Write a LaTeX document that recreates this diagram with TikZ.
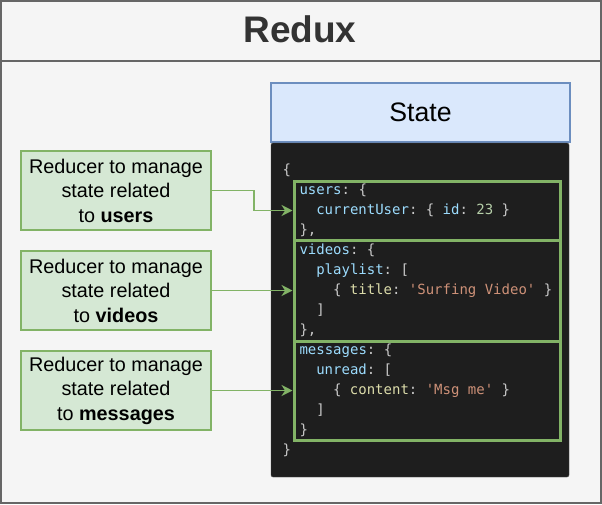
\documentclass[tikz,border=0pt]{standalone}
\usepackage{fontspec}
\setmainfont{Liberation Sans}
\setmonofont{DejaVu Sans Mono}
\usepackage{xcolor}
\usetikzlibrary{positioning, arrows.meta}

\definecolor{framegray}{HTML}{666666}
\definecolor{framefill}{HTML}{F5F5F5}
\definecolor{titletext}{HTML}{333333}
\definecolor{statefill}{HTML}{DAE8FC}
\definecolor{stateline}{HTML}{6C8EBF}
\definecolor{greenfill}{HTML}{D5E8D4}
\definecolor{greenline}{HTML}{82B366}
\definecolor{codebg}{HTML}{1E1E1E}
\definecolor{codepunct}{HTML}{C8C8C8}
\definecolor{codekey}{HTML}{9CDCFE}
\definecolor{codestr}{HTML}{CE9178}
\definecolor{codenum}{HTML}{B5CEA8}
\definecolor{codefld}{HTML}{DCDCAA}

\newcommand{\jkey}[1]{\textcolor{codekey}{#1}}
\newcommand{\jstr}[1]{\textcolor{codestr}{#1}}
\newcommand{\jnum}[1]{\textcolor{codenum}{#1}}
\newcommand{\jfld}[1]{\textcolor{codefld}{#1}}

\tikzset{
  reducer/.style={draw=greenline, fill=greenfill, line width=1.5pt, minimum width=190pt,
    minimum height=79pt, align=center, inner sep=0pt,
    font=\fontsize{19.8}{24.5}\selectfont},
  slice/.style={draw=greenline, line width=3pt, minimum width=266pt, inner sep=0pt},
  codeline/.style={anchor=base west, inner sep=0pt, text=codepunct,
    font=\fontsize{14}{20}\ttfamily},
  feed/.style={draw=greenline, line width=1.8pt, -{Stealth[length=11pt,width=11pt]}}
}

\begin{document}
\begin{tikzpicture}[x=1pt, y=-1pt]
\useasboundingbox (0,0) rectangle (602,504);

% frame and title
\draw[framegray, fill=framefill, line width=2pt] (1,1) rectangle (601,503);
\draw[framegray, line width=2pt] (1,61) -- (601,61);
\node[anchor=base, inner sep=0pt, font=\fontsize{37}{40}\selectfont\bfseries, text=titletext]
  (title) at (300,42) {Redux};

% state store
\node[draw=stateline, fill=statefill, line width=1.5pt, minimum width=299pt, minimum height=59pt,
  inner sep=0pt, font=\fontsize{26.7}{30}\selectfont] (state) at (420.5,112.5) {State};
\node[fill=codebg, draw=codebg!80!white, rounded corners=2pt, minimum width=298pt,
  minimum height=334pt, inner sep=0pt] (code) at (420,310) {};

% code lines
\node[codeline] (l0) at (282.5,174) {\{};
\node[codeline] (l1) at (299.3,194) {\jkey{users}: \{};
\node[codeline] (l2) at (316.1,214) {\jkey{currentUser}: \{ \jkey{id}: \jnum{23} \}};
\node[codeline] (l3) at (299.3,234) {\},};
\node[codeline] (l4) at (299.3,254) {\jkey{videos}: \{};
\node[codeline] (l5) at (316.1,274) {\jkey{playlist}: [};
\node[codeline] (l6) at (332.9,294) {\{ \jfld{title}: \jstr{'Surfing Video'} \}};
\node[codeline] (l7) at (316.1,314) {]};
\node[codeline] (l8) at (299.3,334) {\},};
\node[codeline] (l9) at (299.3,354) {\jkey{messages}: \{};
\node[codeline] (l10) at (316.1,374) {\jkey{unread}: [};
\node[codeline] (l11) at (332.9,394) {\{ \jfld{content}: \jstr{'Msg me'} \}};
\node[codeline] (l12) at (316.1,414) {]};
\node[codeline] (l13) at (299.3,434) {\}};
\node[codeline] (l14) at (282.5,454) {\}};

% slices of the state
\node[slice, minimum height=59pt] (users) at (427,210.5) {};
\node[slice, minimum height=101pt] (videos) at (427,290.5) {};
\node[slice, minimum height=99pt] (messages) at (427,390.5) {};

% reducers
\node[reducer] (redusers) at (116,190.5) {Reducer to manage\\state related\\to \textbf{users}};
\node[reducer] (redvideos) at (116,290.5) {Reducer to manage\\state related\\to \textbf{videos}};
\node[reducer] (redmessages) at (116,390.5) {Reducer to manage\\state related\\to \textbf{messages}};

\draw[feed] (redusers.east) -- ++(42,0) |- (users.west);
\draw[feed] (redvideos.east) -- (videos.west);
\draw[feed] (redmessages.east) -- (messages.west);
\end{tikzpicture}
\end{document}
